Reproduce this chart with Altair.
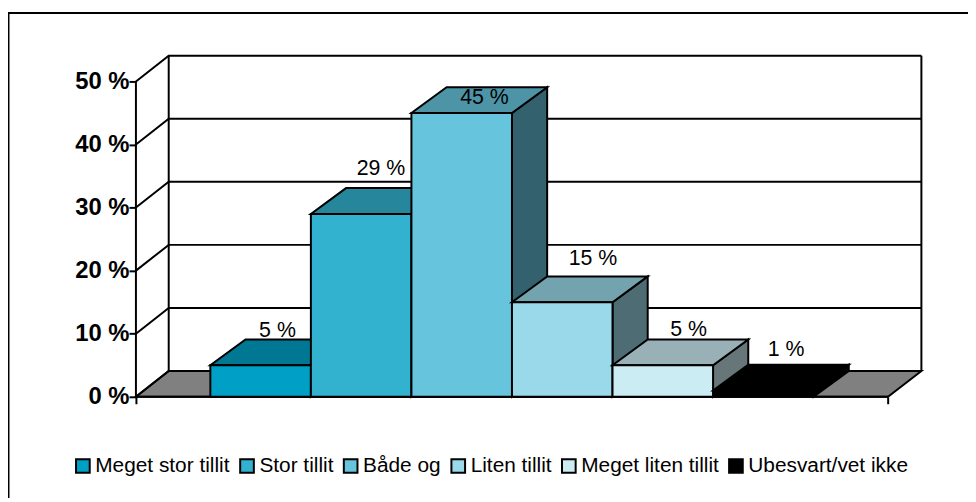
import altair as alt
import pandas as pd

categories = ["Meget stor tillit", "Stor tillit", "Både og", "Liten tillit", "Meget liten tillit", "Ubesvart/vet ikke"]
values = [5, 29, 45, 15, 5, 1]
labels = ["5 %", "29 %", "45 %", "15 %", "5 %", "1 %"]
front_colors = ["#00A0C6", "#33B2CF", "#66C5DD", "#99D9E9", "#CCECF3", "#000000"]
top_colors = ["#007894", "#26869B", "#4D94A6", "#73A3AF", "#99B1B6", "#000000"]
side_colors = ["#005063", "#1A5968", "#33626E", "#4D6C74", "#667679", "#000000"]
y_ticks = [0, 10, 20, 30, 40, 50]
label_dx = [17, 20, 23, 31, 26, 23]
label_dy = [-35, -45, -15, -43, -36, -41]

# perspective offsets, in data units
X_LEFT, X_RIGHT = -0.74, 6.74
WALL_DX = 0.326
BAR_DX = 0.35
DEPTH = 26 / 6.36
X_MAX = X_RIGHT + 0.332
Y_MAX = 344 / 6.36

xs = alt.Scale(domain=[X_LEFT, X_MAX], nice=False, zero=False)
ys = alt.Scale(domain=[0, Y_MAX], nice=False, zero=False)
FONT = "Liberation Sans"
LW = 2

x_axis = alt.Axis(values=[X_LEFT, X_RIGHT], labels=False, domain=False, grid=False, tickSize=7,
                  tickColor="black", tickWidth=LW, title=None)
y_axis = alt.Axis(values=y_ticks, labelExpr="datum.value + ' %'", domain=False, grid=False, tickSize=7,
                  tickColor="black", tickWidth=LW, labelFont=FONT, labelFontWeight="bold", labelFontSize=24,
                  labelColor="black", labelPadding=0, title=None)


def area_face(points, color, stroke="black"):
    d = pd.DataFrame(points, columns=["x", "y", "y2"])
    return alt.Chart(d).mark_area(color=color, stroke=stroke, strokeWidth=LW, interpolate="linear", opacity=1).encode(
        x=alt.X("x:Q", scale=xs, axis=x_axis),
        y=alt.Y("y:Q", scale=ys, axis=y_axis),
        y2="y2:Q",
    )


def polyline(points):
    d = pd.DataFrame(points, columns=["x", "y", "k"])
    return alt.Chart(d).mark_line(color="black", strokeWidth=LW).encode(
        x=alt.X("x:Q", scale=xs, axis=x_axis),
        y=alt.Y("y:Q", scale=ys, axis=y_axis),
        detail="k:N",
        order="o:Q",
    ).transform_calculate(o="datum.x + datum.y / 1000")


layers = []

# floor
layers.append(area_face([
    [X_LEFT, 0, 0],
    [X_LEFT + WALL_DX, 0, DEPTH],
    [X_RIGHT, 0, DEPTH],
    [X_RIGHT + WALL_DX + 0.006, DEPTH, DEPTH],
], "#808080"))

# walls and grid
grid_pts = []
for t in y_ticks:
    grid_pts += [[X_LEFT, t, f"d{t}"], [X_LEFT + WALL_DX, t + DEPTH, f"d{t}"], [X_MAX, t + DEPTH, f"d{t}"]]
grid_pts += [[X_LEFT, 0, "front"], [X_LEFT, 50, "front"]]
grid_pts += [[X_LEFT + WALL_DX, DEPTH, "back"], [X_LEFT + WALL_DX, 50 + DEPTH, "back"]]
grid_pts += [[X_MAX, DEPTH, "right"], [X_MAX, 50 + DEPTH, "right"]]
grid_pts += [[X_LEFT, 0, "base"], [X_RIGHT, 0, "base"]]
layers.append(polyline(grid_pts))

# bars, left to right
legend = alt.Legend(
    title=None, orient="none", legendX=-64, legendY=403, direction="horizontal", columns=6,
    symbolType="square", symbolSize=190, symbolStrokeColor="black", symbolStrokeWidth=2,
    labelFont=FONT, labelFontSize=21, labelColor="black", labelOffset=2, columnPadding=5.5,
    symbolOpacity=1, labelLimit=300, padding=0, values=categories,
)
for i, (c, v) in enumerate(zip(categories, values)):
    x0, x1 = i, i + 1
    layers.append(area_face([
        [x1, 0, v],
        [x1 + BAR_DX, DEPTH, v + DEPTH],
    ], side_colors[i]))
    layers.append(area_face([
        [x0, v, v],
        [x0 + BAR_DX, v, v + DEPTH],
        [x1, v, v + DEPTH],
        [x1 + BAR_DX, v + DEPTH, v + DEPTH],
    ], top_colors[i]))
    f = pd.DataFrame({"category": [c], "x0": [x0], "x1": [x1], "v": [v], "b": [0]})
    layers.append(
        alt.Chart(f).mark_rect(stroke="black", strokeWidth=LW, opacity=1).encode(
            x=alt.X("x0:Q", scale=xs, axis=x_axis),
            x2="x1:Q",
            y=alt.Y("v:Q", scale=ys, axis=y_axis),
            y2="b:Q",
            color=alt.Color("category:N", sort=categories,
                            scale=alt.Scale(domain=categories, range=front_colors), legend=legend),
        )
    )

# value labels
for i, (v, lab) in enumerate(zip(values, labels)):
    t = pd.DataFrame({"x": [i + 0.5], "y": [v], "label": [lab]})
    layers.append(
        alt.Chart(t).mark_text(font=FONT, fontSize=21.5, color="black", align="center", baseline="middle",
                               dx=label_dx[i], dy=label_dy[i]).encode(
            x=alt.X("x:Q", scale=xs, axis=x_axis),
            y=alt.Y("y:Q", scale=ys, axis=y_axis),
            text="label:N",
        )
    )

# outer frame: only its top and left edges are in view
layers.append(alt.Chart(pd.DataFrame({"a": [0]})).mark_rule(color="black", strokeWidth=2).encode(
    x=alt.value(-129), x2=alt.value(839), y=alt.value(-43)))
layers.append(alt.Chart(pd.DataFrame({"a": [0]})).mark_rule(color="black", strokeWidth=2).encode(
    x=alt.value(-128.5), y=alt.value(-43), y2=alt.value(448)))

chart = alt.layer(*layers).properties(
    width=792, height=344,
    autosize=alt.AutoSizeParams(type="none"),
    padding={"left": 129, "top": 46, "right": 47, "bottom": 100},
    background="white",
).configure_view(stroke=None)

chart.save("out.html", embed_options={"renderer": "svg", "actions": False})
